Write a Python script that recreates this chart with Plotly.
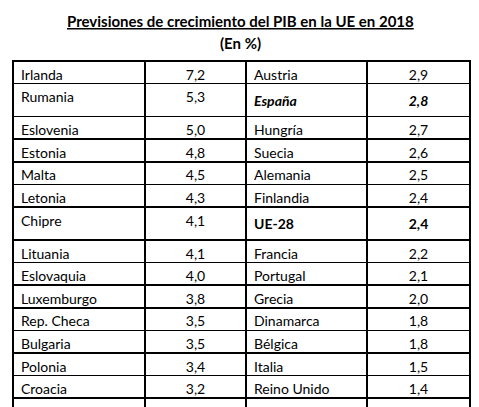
import plotly.graph_objects as go

paises_a = ["Irlanda", "Rumania", "Eslovenia", "Estonia", "Malta", "Letonia", "Chipre",
            "Lituania", "Eslovaquia", "Luxemburgo", "Rep. Checa", "Bulgaria", "Polonia",
            "Croacia", "Países Bajos"]
valores_a = ["7,2", "5,3", "5,0", "4,8", "4,5", "4,3", "4,1", "4,1", "4,0", "3,8", "3,5",
             "3,5", "3,4", "3,2", "2,9"]
paises_b = ["Austria", "<b><i>España</i></b>", "Hungría", "Suecia", "Alemania", "Finlandia",
            "<b>UE-28</b>", "Francia", "Portugal", "Grecia", "Dinamarca", "Bélgica", "Italia",
            "Reino Unido", ""]
valores_b = ["2,9", "<b><i>2,8</i></b>", "2,7", "2,6", "2,5", "2,4", "<b>2,4</b>", "2,2",
             "2,1", "2,0", "1,8", "1,8", "1,5", "1,4", ""]

cols = [paises_a, valores_a, paises_b, valores_b]
font = dict(family="Lato", size=14, color="black")
align = ["left", "center", "left", "center"]
h = 22.6
W, H = 471, 399  # page body has an 8px margin

fig = go.Figure(go.Table(
    domain=dict(x=[5 / W, 462 / W], y=[0, 1 - 53 / H]),
    columnwidth=[132, 101, 121, 103],
    header=dict(values=[c[0] for c in cols], align=align, font=font, height=h,
                fill_color="white", line=dict(color="black", width=1.5)),
    cells=dict(values=[c[1:] for c in cols], align=align, font=font, height=h,
               fill_color="white", line=dict(color="black", width=1.5)),
))

fig.add_annotation(text="<b><u>Previsiones de crecimiento del PIB en la UE en 2018</u></b>",
                   x=(240 - 8) / W, y=1 - 2 / H, xref="paper", yref="paper", yanchor="top",
                   showarrow=False, font=dict(family="Lato", size=15, color="black"))
fig.add_annotation(text="<b>(En %)</b>",
                   x=(240 - 8) / W, y=1 - 24 / H, xref="paper", yref="paper", yanchor="top",
                   showarrow=False, font=dict(family="Lato", size=15, color="black"))

fig.update_layout(width=W, height=H, margin=dict(l=0, r=0, t=0, b=0),
                  paper_bgcolor="white")
fig.write_html("out.html")
